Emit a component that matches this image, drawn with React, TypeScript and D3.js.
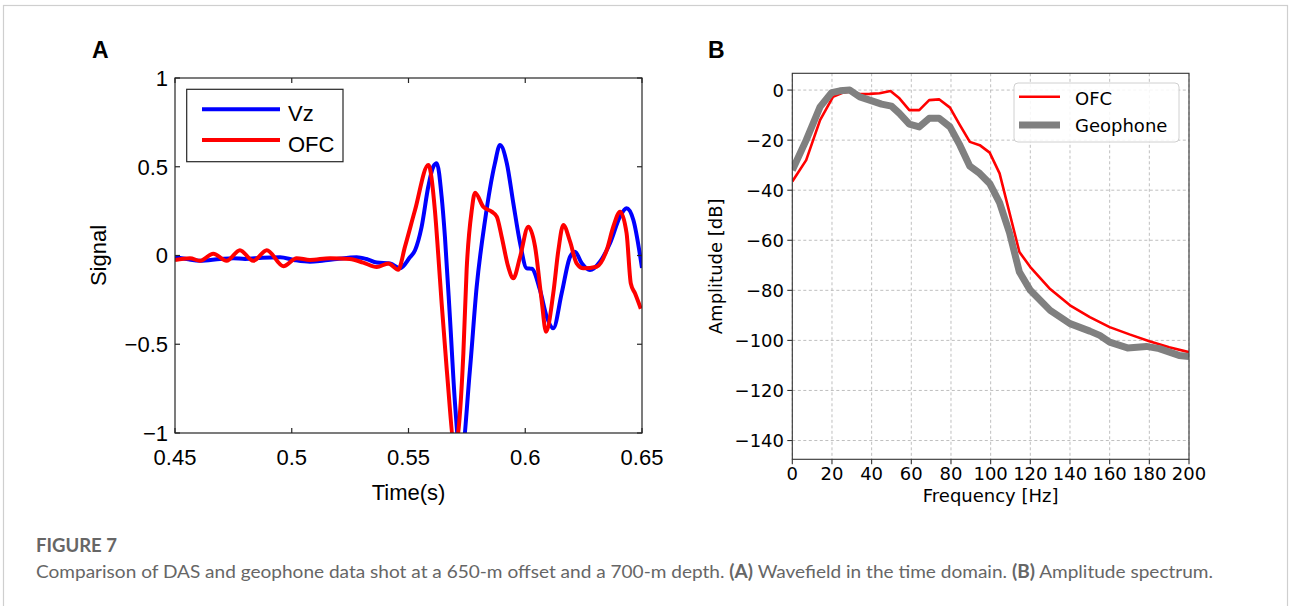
import React from "react";
import * as d3 from "d3";

// ---------- Panel A data (time domain) ----------
const vzTime = [0.450, 0.455, 0.4607, 0.4693, 0.475, 0.480, 0.4875, 0.495, 0.501, 0.5078, 0.513, 0.5193, 0.5278, 0.532, 0.5364, 0.5421, 0.5464, 0.5506, 0.5528, 0.5556, 0.5585, 0.5606, 0.5621, 0.5642, 0.5656, 0.5678, 0.5699, 0.5724, 0.5763, 0.5792, 0.5828, 0.5870, 0.5892, 0.5921, 0.5949, 0.5978, 0.6006, 0.6028, 0.6063, 0.6092, 0.6120, 0.6156, 0.6192, 0.6213, 0.6242, 0.6277, 0.6320, 0.6363, 0.6406, 0.6434, 0.6463, 0.6500];
const vzSignal = [-0.010, -0.020, -0.030, -0.020, -0.015, -0.020, -0.012, -0.010, -0.025, -0.035, -0.030, -0.020, -0.010, -0.020, -0.040, -0.045, -0.072, -0.010, 0.030, 0.160, 0.390, 0.500, 0.520, 0.330, 0.106, -0.363, -0.830, -1.150, -0.645, -0.176, 0.200, 0.519, 0.623, 0.520, 0.294, 0.069, -0.072, -0.075, -0.194, -0.345, -0.410, -0.213, -0.007, 0.021, -0.044, -0.082, -0.035, 0.069, 0.219, 0.266, 0.200, -0.070];

const ofcTime = [0.450, 0.4564, 0.4607, 0.4664, 0.4721, 0.4778, 0.4835, 0.4893, 0.4964, 0.5021, 0.5078, 0.5164, 0.5249, 0.5306, 0.5364, 0.5414, 0.5456, 0.5485, 0.5528, 0.5585, 0.5613, 0.5628, 0.5642, 0.5664, 0.5699, 0.5735, 0.5749, 0.5771, 0.5785, 0.5820, 0.5856, 0.5878, 0.5899, 0.5927, 0.5949, 0.5978, 0.6013, 0.6042, 0.6070, 0.6089, 0.6120, 0.6142, 0.6163, 0.6192, 0.6220, 0.6249, 0.6306, 0.6349, 0.6377, 0.6406, 0.6434, 0.6452, 0.6470, 0.6495];
const ofcSignal = [-0.025, -0.015, -0.030, 0.010, -0.030, 0.030, -0.030, 0.030, -0.060, -0.015, -0.025, -0.015, -0.020, -0.040, -0.065, -0.045, -0.080, 0.050, 0.256, 0.510, 0.256, -0.007, -0.270, -0.645, -1.080, -0.550, -0.080, 0.256, 0.354, 0.275, 0.247, 0.219, 0.106, -0.063, -0.128, -0.007, 0.162, 0.050, -0.250, -0.430, -0.213, 0.031, 0.172, 0.078, -0.044, -0.072, -0.063, 0.031, 0.162, 0.247, 0.125, -0.157, -0.213, -0.300];

const aXTicks = [0.45, 0.5, 0.55, 0.6, 0.65];
const aXTickLabels = ["0.45", "0.5", "0.55", "0.6", "0.65"];
const aYTicks = [-1, -0.5, 0, 0.5, 1];
const aYTickLabels = ["\u22121", "\u22120.5", "0", "0.5", "1"];

// ---------- Panel B data (amplitude spectrum) ----------
const ofcFreq = [0, 7, 14, 20.5, 25, 29, 34, 39, 44, 49.5, 54, 59, 64, 69, 74, 79.5, 84.5, 89.5, 94.5, 99.5, 104.5, 114.5, 120, 130, 140, 150, 160, 170, 180, 190, 200];
const ofcAmp = [-36.5, -28, -12, -2.7, -1.2, -0.6, -1.6, -1.5, -1.3, -0.4, -3.3, -8, -8, -4, -3.7, -7, -14, -20.7, -22, -25, -33.3, -64.7, -70.7, -79.5, -86, -90.7, -94.7, -97.6, -100.3, -102.7, -104.7];

const geoFreq = [0, 7, 14, 19.8, 24, 29, 34, 39, 45, 50, 54, 59, 64, 69, 74, 79.5, 84.5, 89.5, 94.5, 99.5, 104.5, 109.5, 114.5, 120, 130, 140, 150, 155, 160, 169, 178.5, 185, 195, 200];
const geoAmp = [-32, -20, -6.7, -1, -0.3, 0, -2.7, -4, -5.6, -6.4, -9.3, -13.6, -14.7, -11.3, -11.3, -14.7, -22, -30.4, -33.3, -37.3, -45, -57, -72.7, -80, -88, -93.3, -96.3, -98, -100.7, -103, -102.4, -103.3, -106, -106.4];

const bXTicks = [0, 20, 40, 60, 80, 100, 120, 140, 160, 180, 200];
const bYTicks = [0, -20, -40, -60, -80, -100, -120, -140];

const fmtMinus = (v: number) => (v < 0 ? "\u2212" + Math.abs(v) : String(v));

export default function App() {
  const xA = d3.scaleLinear().domain([0.45, 0.65]).range([175, 642]);
  const yA = d3.scaleLinear().domain([-1, 1]).range([433, 78]);
  const xB = d3.scaleLinear().domain([0, 200]).range([792.3, 1189]);
  const yB = d3.scaleLinear().domain([-147.5, 6.7]).range([459.3, 73.3]);

  const lineA = d3
    .line<[number, number]>()
    .x((d) => xA(d[0]))
    .y((d) => yA(d[1]))
    .curve(d3.curveMonotoneX);
  const lineB = d3
    .line<[number, number]>()
    .x((d) => xB(d[0]))
    .y((d) => yB(d[1]));

  const vz = vzTime.map((t, i) => [t, vzSignal[i]] as [number, number]);
  const ofcA = ofcTime.map((t, i) => [t, ofcSignal[i]] as [number, number]);
  const ofcB = ofcFreq.map((f, i) => [f, ofcAmp[i]] as [number, number]);
  const geo = geoFreq.map((f, i) => [f, geoAmp[i]] as [number, number]);

  const [ax0, ax1] = xA.range();
  const [ay0, ay1] = yA.range(); // 433, 78
  const [bx0, bx1] = xB.range();
  const by0 = yB.range()[0];
  const by1 = yB.range()[1];

  const fontA = "'Liberation Sans', Arial, sans-serif";
  const fontB = "'DejaVu Sans', sans-serif";
  const capFont = "Lato, 'Open Sans', sans-serif";

  return (
    <svg
      width={1290}
      height={606}
      style={{ position: "absolute", left: 0, top: 0, background: "#fff" }}
    >
      <defs>
        <clipPath id="clipA">
          <rect x={ax0} y={ay1} width={ax1 - ax0} height={ay0 - ay1} />
        </clipPath>
        <clipPath id="clipB">
          <rect x={bx0} y={by1} width={bx1 - bx0} height={by0 - by1} />
        </clipPath>
      </defs>

      {/* figure frame */}
      <rect x={3.5} y={5.5} width={1284} height={640} fill="none" stroke="#cfcfcf" strokeWidth={1.2} />

      {/* ---------------- Panel A ---------------- */}
      <text x={92} y={58} fontFamily={fontA} fontWeight="bold" fontSize={23} fill="#000">A</text>

      <g clipPath="url(#clipA)">
        <path d={lineA(vz) || ""} fill="none" stroke="#0000ff" strokeWidth={4} strokeLinejoin="round" />
        <path d={lineA(ofcA) || ""} fill="none" stroke="#ff0000" strokeWidth={4} strokeLinejoin="round" />
      </g>

      <rect x={ax0} y={ay1} width={ax1 - ax0} height={ay0 - ay1} fill="none" stroke="#262626" strokeWidth={1.2} />

      {aXTicks.map((t, i) => (
        <g key={"axt" + i}>
          <line x1={xA(t)} x2={xA(t)} y1={ay0} y2={ay0 - 5} stroke="#262626" strokeWidth={1.2} />
          <line x1={xA(t)} x2={xA(t)} y1={ay1} y2={ay1 + 5} stroke="#262626" strokeWidth={1.2} />
          <text x={xA(t)} y={465} textAnchor="middle" fontFamily={fontA} fontSize={22} fill="#000">
            {aXTickLabels[i]}
          </text>
        </g>
      ))}
      {aYTicks.map((v, i) => (
        <g key={"ayt" + i}>
          <line x1={ax0} x2={ax0 + 5} y1={yA(v)} y2={yA(v)} stroke="#262626" strokeWidth={1.2} />
          <line x1={ax1} x2={ax1 - 5} y1={yA(v)} y2={yA(v)} stroke="#262626" strokeWidth={1.2} />
          <text x={168} y={yA(v)} dy="0.36em" textAnchor="end" fontFamily={fontA} fontSize={22} fill="#000">
            {aYTickLabels[i]}
          </text>
        </g>
      ))}

      <text x={408.5} y={500} textAnchor="middle" fontFamily={fontA} fontSize={22} fill="#000">Time(s)</text>
      <text
        transform={`translate(106,255.5) rotate(-90)`}
        textAnchor="middle"
        fontFamily={fontA}
        fontSize={22}
        fill="#000"
      >
        Signal
      </text>

      {/* legend A */}
      <rect x={186.7} y={89.3} width={156.3} height={72.4} fill="#fff" stroke="#262626" strokeWidth={1.2} />
      <line x1={202} x2={280} y1={109.3} y2={109.3} stroke="#0000ff" strokeWidth={4} />
      <line x1={202} x2={280} y1={140} y2={140} stroke="#ff0000" strokeWidth={4} />
      <text x={288} y={121} fontFamily={fontA} fontSize={22} fill="#000">Vz</text>
      <text x={288} y={151.5} fontFamily={fontA} fontSize={22} fill="#000">OFC</text>

      {/* ---------------- Panel B ---------------- */}
      <text x={708} y={58} fontFamily={fontA} fontWeight="bold" fontSize={23} fill="#000">B</text>

      {/* grid */}
      {bXTicks.map((f, i) => (
        <line key={"bgx" + i} x1={xB(f)} x2={xB(f)} y1={by1} y2={by0} stroke="#b8b8b8" strokeWidth={0.9} strokeDasharray="3,2.5" />
      ))}
      {bYTicks.map((v, i) => (
        <line key={"bgy" + i} x1={bx0} x2={bx1} y1={yB(v)} y2={yB(v)} stroke="#b8b8b8" strokeWidth={0.9} strokeDasharray="3,2.5" />
      ))}

      <g clipPath="url(#clipB)">
        <path d={lineB(ofcB) || ""} fill="none" stroke="#ff0000" strokeWidth={2.6} strokeLinejoin="round" />
        <path d={lineB(geo) || ""} fill="none" stroke="#808080" strokeWidth={7} strokeLinejoin="round" />
      </g>

      <rect x={bx0} y={by1} width={bx1 - bx0} height={by0 - by1} fill="none" stroke="#333" strokeWidth={1.1} />

      {bXTicks.map((f, i) => (
        <g key={"bxt" + i}>
          <line x1={xB(f)} x2={xB(f)} y1={by0} y2={by0 + 5} stroke="#333" strokeWidth={1.1} />
          <text x={xB(f)} y={480} textAnchor="middle" fontFamily={fontB} fontSize={18} fill="#000">
            {String(f)}
          </text>
        </g>
      ))}
      {bYTicks.map((v, i) => (
        <g key={"byt" + i}>
          <line x1={bx0} x2={bx0 - 5} y1={yB(v)} y2={yB(v)} stroke="#333" strokeWidth={1.1} />
          <text x={784} y={yB(v)} dy="0.36em" textAnchor="end" fontFamily={fontB} fontSize={18} fill="#000">
            {fmtMinus(v)}
          </text>
        </g>
      ))}

      <text x={(bx0 + bx1) / 2} y={502} textAnchor="middle" fontFamily={fontB} fontSize={18} fill="#000">
        Frequency [Hz]
      </text>
      <text
        transform={`translate(722,266.3) rotate(-90)`}
        textAnchor="middle"
        fontFamily={fontB}
        fontSize={18}
        fill="#000"
      >
        Amplitude [dB]
      </text>

      {/* legend B */}
      <rect x={1014} y={83} width={165} height={59} rx={4} fill="#fff" fillOpacity={0.85} stroke="#d0d0d0" strokeWidth={1} />
      <line x1={1019} x2={1060} y1={96.7} y2={96.7} stroke="#ff0000" strokeWidth={2.6} />
      <line x1={1019} x2={1060} y1={125} y2={125} stroke="#808080" strokeWidth={7} />
      <text x={1075} y={105} fontFamily={fontB} fontSize={18} fill="#000">OFC</text>
      <text x={1075} y={132} fontFamily={fontB} fontSize={18} fill="#000">Geophone</text>

      {/* caption */}
      <text x={36} y={552} fontFamily={capFont} fontWeight="bold" fontSize={18} fill="#666" textLength={81} lengthAdjust="spacingAndGlyphs">
        FIGURE 7
      </text>
      <text x={36} y={578} fontFamily={capFont} fontSize={18} fill="#666" textLength={1177} lengthAdjust="spacingAndGlyphs">
        Comparison of DAS and geophone data shot at a 650-m offset and a 700-m depth.{" "}
        <tspan fontWeight="bold">(A)</tspan> Wavefield in the time domain.{" "}
        <tspan fontWeight="bold">(B)</tspan> Amplitude spectrum.
      </text>
    </svg>
  );
}
